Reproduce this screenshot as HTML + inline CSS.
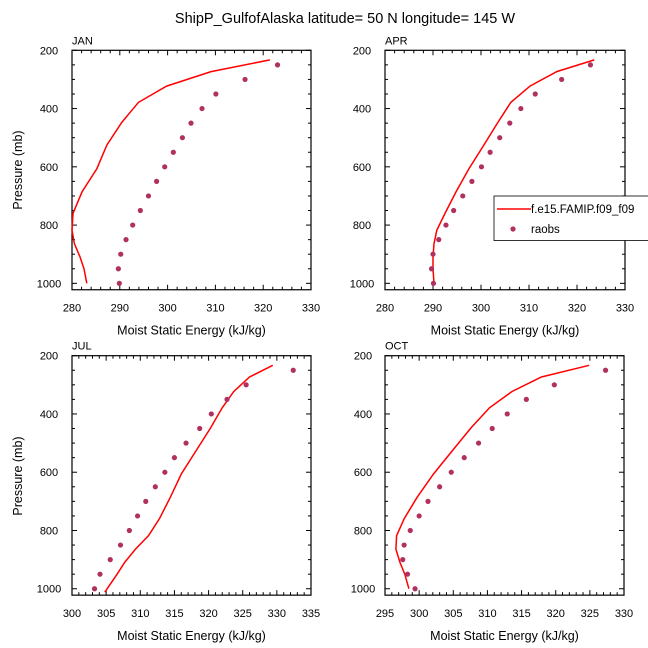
<!DOCTYPE html>
<html><head><meta charset="utf-8">
<style>
body{margin:0;background:#fff;}
svg{display:block;font-family:"Liberation Sans",Arial,sans-serif;}
</style></head>
<body>
<svg id="chart" width="648" height="648" viewBox="0 0 648 648" xmlns="http://www.w3.org/2000/svg">
<text x="345" y="23" font-size="14.5" text-anchor="middle">ShipP_GulfofAlaska  latitude= 50 N longitude= 145 W</text>
</svg>
<script>
// ---- data ----
const obsLevels = [250,300,350,400,450,500,550,600,650,700,750,800,850,900,950,1000];
const modelLevels = [233,273,323,379,448,525,606,686,760,818,864,910,950,1000];
const julModelLevels = [233,273,323,379,448,525,606,686,760,818,864,910,950,1012];

const janModel = [321.4,309.1,299.8,293.9,290.4,287.3,285.2,282.1,280.2,280.0,280.5,281.7,282.5,283.1];
const janObs = [323.0,316.2,310.1,307.2,304.9,303.1,301.2,299.4,297.7,296.0,294.3,292.7,291.3,290.2,289.7,289.9];
const aprModel = [323.6,315.8,310.2,306.2,303.5,300.6,297.5,294.8,292.5,290.8,290.2,290.0,290.0,290.2];
const aprObs = [322.8,316.8,311.3,308.3,306.0,303.9,301.9,300.1,298.1,296.2,294.3,292.7,291.2,290.0,289.7,290.1];
const julModel = [329.4,326.0,323.7,322.0,320.3,318.2,316.0,314.4,312.8,311.2,309.3,307.7,306.6,304.8];
const julObs = [332.4,325.5,322.7,320.4,318.7,316.7,315.0,313.6,312.2,310.8,309.6,308.4,307.1,305.6,304.1,303.3];
const octModel = [324.9,317.9,313.6,310.3,307.6,304.9,302.1,299.7,297.8,296.7,296.6,297.2,297.9,298.5];
const octObs = [327.3,319.8,315.7,312.9,310.7,308.7,306.6,304.7,303.0,301.3,300.0,298.7,297.8,297.6,298.3,299.4];

const yTicks = [200,400,600,800,1000];
const topXTicks = [280,290,300,310,320,330];
const julXTicks = [300,305,310,315,320,325,330,335];
const octXTicks = [295,300,305,310,315,320,325,330];

const NS="http://www.w3.org/2000/svg";
const svg=document.getElementById('chart');
function mk(tag,attrs,parent){const e=document.createElementNS(NS,tag);for(const k in attrs)e.setAttribute(k,attrs[k]);(parent||svg).appendChild(e);return e;}

const panels=[
 {name:'jan',label:'JAN',x0:72,x1:311,y0:50.3,xmin:280,xmax:330,xt:topXTicks,minor:2,model:janModel,lev:modelLevels,obs:janObs,ytitle:true,ylx:49,yty:170,ytx:22},
 {name:'apr',label:'APR',x0:385,x1:625,y0:50.3,xmin:280,xmax:330,xt:topXTicks,minor:2,model:aprModel,lev:modelLevels,obs:aprObs,ytitle:false,ylx:362},
 {name:'jul',label:'JUL',x0:72,x1:311,y0:355.7,xmin:300,xmax:335,xt:julXTicks,minor:1,model:julModel,lev:julModelLevels,obs:julObs,ytitle:true,ylx:49,yty:476,ytx:22},
 {name:'oct',label:'OCT',x0:385,x1:624,y0:355.7,xmin:295,xmax:330,xt:octXTicks,minor:1,model:octModel,lev:modelLevels,obs:octObs,ytitle:false,ylx:363}
];
const PY=0.2913; // px per mb
panels.forEach(p=>{
  const g=mk('g',{});
  
  
  const xs=v=>p.x0+(v-p.xmin)/(p.xmax-p.xmin)*(p.x1-p.x0);
  const ys=v=>p.y0+(v-200)*PY;
  const yb=ys(1022);
  for(let v=p.xmin;v<=p.xmax+1e-6;v+=p.minor){
    const maj=p.xt.some(t=>Math.abs(t-v)<1e-6);const L=maj?5:3;
    mk('line',{x1:xs(v),x2:xs(v),y1:yb,y2:yb-L,stroke:'#000','stroke-width':1},g);
    mk('line',{x1:xs(v),x2:xs(v),y1:p.y0,y2:p.y0+L,stroke:'#000','stroke-width':1},g);
  }
  for(let v=200;v<=1000;v+=50){
    const maj=yTicks.includes(v);const L=maj?5:3;
    mk('line',{x1:p.x0,x2:p.x0+L,y1:ys(v),y2:ys(v),stroke:'#000','stroke-width':1},g);
    mk('line',{x1:p.x1,x2:p.x1-L,y1:ys(v),y2:ys(v),stroke:'#000','stroke-width':1},g);
  }
  const fr=mk('rect',{x:p.x0,y:p.y0,width:p.x1-p.x0,height:yb-p.y0,fill:'none',stroke:'#000','stroke-width':1.2},g);
  
  
  p.xt.forEach(t=>{
    const e=mk('text',{x:xs(t),y:yb+22,'font-size':11,'text-anchor':'middle'},g);e.textContent=t;
    
    
  });
  yTicks.forEach(t=>{
    const e=mk('text',{x:p.ylx,y:ys(t)+4,'font-size':11,'text-anchor':'middle'},g);e.textContent=t;
    
    
  });
  const lb=mk('text',{x:p.x0,y:p.y0-6,'font-size':11},g);lb.textContent=p.label;
  
  
  const xt=mk('text',{x:(p.x0+p.x1)/2,y:yb+45,'font-size':12.5,'text-anchor':'middle'},g);xt.textContent='Moist Static Energy (kJ/kg)';
  
  
  if(p.ytitle){
    const yt=mk('text',{x:p.ytx,y:p.yty,'font-size':12.5,'text-anchor':'middle',transform:`rotate(-90 ${p.ytx} ${p.yty})`},g);yt.textContent='Pressure (mb)';
    
    
  }
  const pts=p.model.map((v,i)=>xs(v).toFixed(1)+','+ys(p.lev[i]).toFixed(1)).join(' ');
  const ln=mk('polyline',{points:pts,fill:'none',stroke:'#ff0000','stroke-width':1.5},g);
  
  
  p.obs.forEach((v,i)=>{
    const c=mk('circle',{cx:xs(v),cy:ys(obsLevels[i]),r:2.6,fill:'#b03060'},g);
    
    
  });
});
const lg=mk('g',{});


mk('rect',{x:494,y:196,width:160,height:44.5,fill:'#fff',stroke:'#000','stroke-width':0.8},lg);
mk('line',{x1:497,x2:531,y1:209,y2:209,stroke:'#ff0000','stroke-width':1.5},lg);
const l1=mk('text',{x:531,y:213,'font-size':11.5},lg);l1.textContent='f.e15.FAMIP.f09_f09';


mk('circle',{cx:513,cy:229,r:2.6,fill:'#b03060'},lg);
const l2=mk('text',{x:531,y:233,'font-size':11.5},lg);l2.textContent='raobs';


</script>
</body></html>
